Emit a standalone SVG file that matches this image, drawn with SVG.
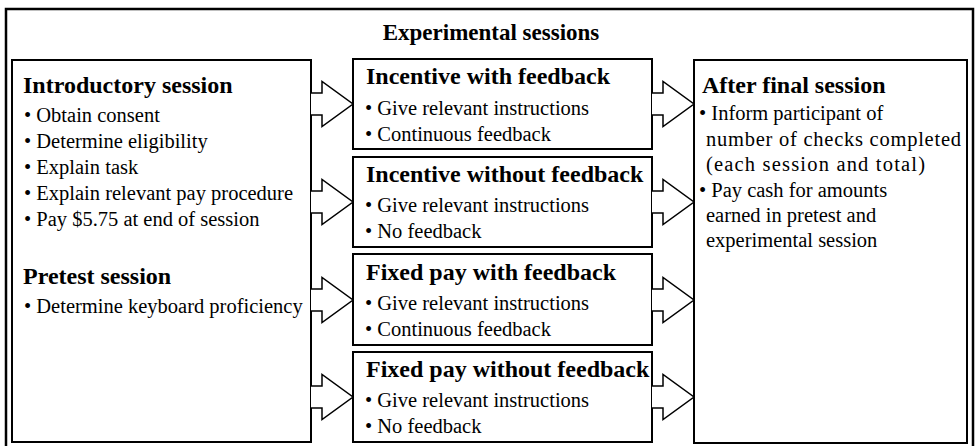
<svg xmlns="http://www.w3.org/2000/svg" width="975" height="446" viewBox="0 0 975 446">
<style>
.box{fill:#fff;stroke:#000;stroke-width:2}
.frame{fill:#fff;stroke:#000;stroke-width:2.5}
.arr{fill:#fff;stroke:#000;stroke-width:1.5;stroke-linejoin:miter}
text{font-family:"Liberation Serif","Times New Roman",serif;fill:#000}
.t{font-size:23px;font-weight:bold}
.h{font-size:24px;font-weight:bold}
.b{font-size:20.5px}
</style>
<rect class="frame" x="6" y="9" width="967" height="450"/>
<text class="t" x="491" y="40" text-anchor="middle">Experimental sessions</text>
<g id="intro">
<rect class="box" x="12" y="60" width="299" height="382"/>
<text class="h" x="23" y="93">Introductory session</text>
<text class="b" x="24" y="122">• Obtain consent</text>
<text class="b" x="24" y="148">• Determine eligibility</text>
<text class="b" x="24" y="174">• Explain task</text>
<text class="b" x="24" y="200">• Explain relevant pay procedure</text>
<text class="b" x="24" y="226">• Pay $5.75 at end of session</text>
<text class="h" x="23" y="284">Pretest session</text>
<text class="b" x="24" y="313">• Determine keyboard proficiency</text>
</g>
<g id="iwf">
<rect class="box" x="353" y="59" width="299" height="90"/>
<text class="h" x="366" y="84">Incentive with feedback</text>
<text class="b" x="365" y="115">• Give relevant instructions</text>
<text class="b" x="365" y="141">• Continuous feedback</text>
</g>
<g id="iwof">
<rect class="box" x="353" y="157" width="299" height="90"/>
<text class="h" x="366" y="182">Incentive without feedback</text>
<text class="b" x="365" y="212">• Give relevant instructions</text>
<text class="b" x="365" y="238">• No feedback</text>
</g>
<g id="fwf">
<rect class="box" x="353" y="254" width="299" height="91"/>
<text class="h" x="366" y="280">Fixed pay with feedback</text>
<text class="b" x="365" y="310">• Give relevant instructions</text>
<text class="b" x="365" y="336">• Continuous feedback</text>
</g>
<g id="fwof">
<rect class="box" x="353" y="352" width="299" height="90"/>
<text class="h" x="366" y="377">Fixed pay without feedback</text>
<text class="b" x="365" y="407">• Give relevant instructions</text>
<text class="b" x="365" y="433">• No feedback</text>
</g>
<g id="after">
<rect class="box" x="694" y="60" width="273" height="383"/>
<text class="h" x="702" y="93">After final session</text>
<text class="b" x="699" y="120">• Inform participant of</text>
<text class="b" x="706" y="146" textLength="255" lengthAdjust="spacing">number of checks completed</text>
<text class="b" x="706" y="171" textLength="219" lengthAdjust="spacing">(each session and total)</text>
<text class="b" x="699" y="197">• Pay cash for amounts</text>
<text class="b" x="706" y="222">earned in pretest and</text>
<text class="b" x="706" y="247">experimental session</text>
</g>
<g id="connectors">
<polyline class="arr" points="311,93 322,93 322,81.5 353,104 322,126.5 322,115 311,115"/>
<polyline class="arr" points="311,191 322,191 322,179.5 353,202 322,224.5 322,213 311,213"/>
<polyline class="arr" points="311,289 322,289 322,277.5 353,300 322,322.5 322,311 311,311"/>
<polyline class="arr" points="311,386 322,386 322,374.5 353,397 322,419.5 322,408 311,408"/>
<polyline class="arr" points="652,93 663,93 663,81.5 694,104 663,126.5 663,115 652,115"/>
<polyline class="arr" points="652,191 663,191 663,179.5 694,202 663,224.5 663,213 652,213"/>
<polyline class="arr" points="652,289 663,289 663,277.5 694,300 663,322.5 663,311 652,311"/>
<polyline class="arr" points="652,386 663,386 663,374.5 694,397 663,419.5 663,408 652,408"/>
</g>
</svg>
